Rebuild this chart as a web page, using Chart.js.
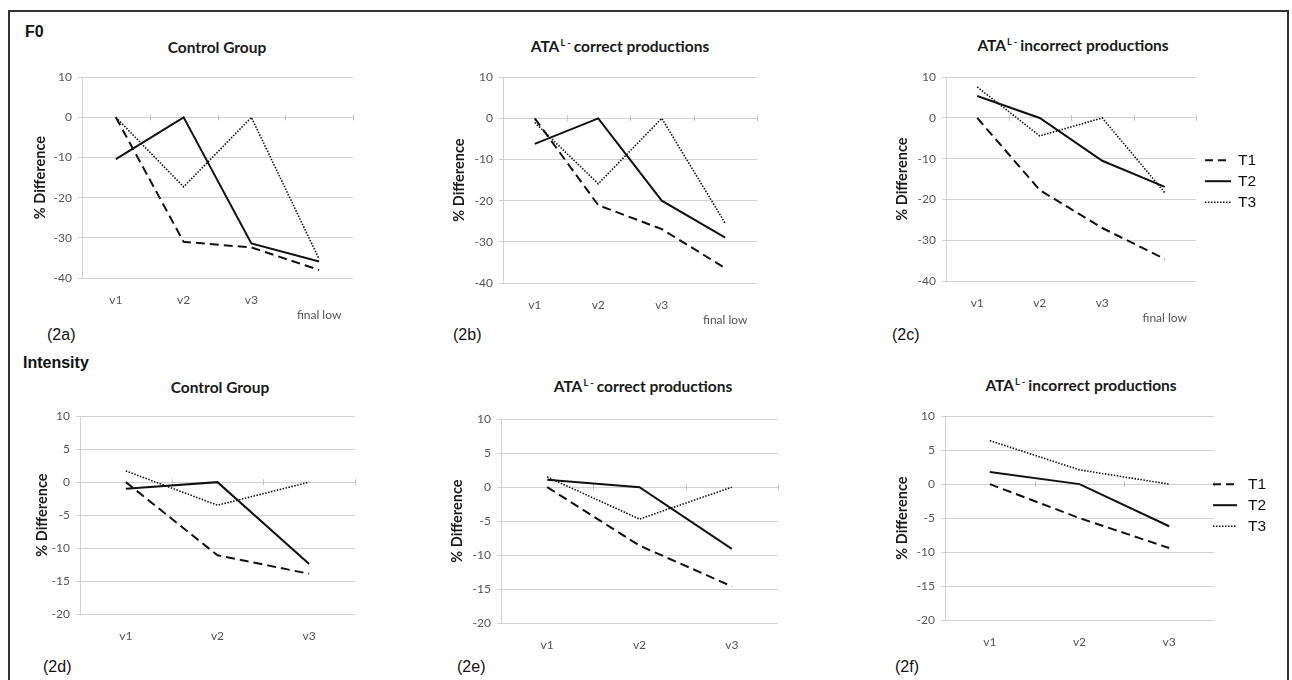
<!DOCTYPE html>
<html>
<head>
<meta charset="utf-8">
<script src="https://cdn.jsdelivr.net/npm/chart.js@4.4.1/dist/chart.umd.min.js"></script>
<style>
  html, body { margin:0; padding:0; background:#fff; }
  body { width:1292px; height:680px; overflow:hidden; position:relative; }
  #frame { position:absolute; left:8px; top:10px; width:1281px; height:700px; border:2px solid #333; box-sizing:border-box; }
  canvas { position:absolute; display:block; }
  .t { position:absolute; white-space:nowrap; line-height:1; transform:translate(0,-50%); color:#111; }
  .c { transform:translate(-50%,-50%); }
  .sec { font-family:"Liberation Sans", Arial, sans-serif; font-weight:bold; font-size:16px; }
  .lab { font-family:"Liberation Sans", Arial, sans-serif; font-size:16px; }
  .ttl { font-family:Lato, "Open Sans", sans-serif; font-weight:bold; font-size:15.5px; color:#1a1a1a; }
  .ttl sup { font-size:60%; vertical-align:0; position:relative; top:-0.6em; margin-left:1px; margin-right:3px; }
</style>
</head>
<body>
<div id="frame"></div>

<div class="t sec" style="left:25px; top:32px;">F0</div>
<div class="t sec" style="left:23px; top:363px;">Intensity</div>

<div class="t c ttl" style="left:217px; top:48px;">Control Group</div>
<div class="t c ttl" style="left:620px; top:47px;">ATA<sup>L -</sup>correct productions</div>
<div class="t c ttl" style="left:1073px; top:46px;">ATA<sup>L -</sup>incorrect productions</div>
<div class="t c ttl" style="left:220px; top:388px;">Control Group</div>
<div class="t c ttl" style="left:643px; top:387px;">ATA<sup>L -</sup>correct productions</div>
<div class="t c ttl" style="left:1081px; top:386px;">ATA<sup>L -</sup>incorrect productions</div>

<div class="t lab" style="left:47px; top:335px;">(2a)</div>
<div class="t lab" style="left:453px; top:335px;">(2b)</div>
<div class="t lab" style="left:892px; top:335px;">(2c)</div>
<div class="t lab" style="left:43px; top:667px;">(2d)</div>
<div class="t lab" style="left:457px; top:667px;">(2e)</div>
<div class="t lab" style="left:895px; top:667px;">(2f)</div>

<canvas id="c2a"></canvas>
<canvas id="c2b"></canvas>
<canvas id="c2c"></canvas>
<canvas id="c2d"></canvas>
<canvas id="c2e"></canvas>
<canvas id="c2f"></canvas>

<script>
// ---------- DATA ----------
const f0Categories = ['v1', 'v2', 'v3', 'final low'];
const intensityCategories = ['v1', 'v2', 'v3'];
const seriesNames = ['T1', 'T2', 'T3'];
const f0YTicks = [10, 0, -10, -20, -30, -40];
const intensityYTicks = [10, 5, 0, -5, -10, -15, -20];

// F0 (% difference)
const f0ControlT1 = [0, -31.0, -32.4, -38.0];
const f0ControlT2 = [-10.4, 0, -31.4, -35.9];
const f0ControlT3 = [0, -17.3, 0, -35.3];

const f0CorrectT1 = [0, -21.1, -26.9, -36.4];
const f0CorrectT2 = [-6.2, 0, -20.0, -29.0];
const f0CorrectT3 = [-1.0, -15.9, 0, -25.5];

const f0IncorrectT1 = [0, -17.7, -27.0, -34.6];
const f0IncorrectT2 = [5.4, 0, -10.5, -16.9];
const f0IncorrectT3 = [7.6, -4.4, 0, -18.3];

// Intensity (% difference)
const intControlT1 = [0, -11.1, -13.9];
const intControlT2 = [-1.0, 0, -12.4];
const intControlT3 = [1.7, -3.5, 0];

const intCorrectT1 = [0, -8.6, -14.6];
const intCorrectT2 = [1.1, 0, -9.1];
const intCorrectT3 = [1.5, -4.7, 0];

const intIncorrectT1 = [0, -5.0, -9.4];
const intIncorrectT2 = [1.8, 0, -6.2];
const intIncorrectT3 = [6.4, 2.1, 0];

// ---------- STYLE ----------
const seriesStyles = [
  { borderDash: [9, 5], borderWidth: 2, legendDash: [8, 5] },
  { borderDash: [], borderWidth: 2, legendDash: [] },
  { borderDash: [1.5, 1.5], borderWidth: 1.6, legendDash: [1.5, 1.5] }
];
const GRID = '#d2d2d2';
const TICKFONT = { family: 'Lato, "Open Sans", sans-serif', size: 12 };

const zeroTicks = {
  id: 'zeroTicks',
  beforeDatasetsDraw(chart) {
    const xs = chart.scales.x, ys = chart.scales.y, ctx = chart.ctx;
    const y0 = ys.getPixelForValue(0);
    const n = chart.data.labels.length;
    const half = (xs.getPixelForValue(1) - xs.getPixelForValue(0)) / 2;
    ctx.save();
    ctx.strokeStyle = '#c4c4c4';
    ctx.lineWidth = 1;
    for (let i = 0; i < n; i++) {
      const xx = Math.round(xs.getPixelForValue(i) + half) + 0.5;
      ctx.beginPath();
      ctx.moveTo(xx, y0 - 3);
      ctx.lineTo(xx, y0 + 3);
      ctx.stroke();
    }
    ctx.restore();
  }
};

const lineLegend = {
  id: 'lineLegend',
  afterDraw(chart, args, opts) {
    if (!opts || !opts.show) return;
    const { ctx, chartArea } = chart;
    chart.data.datasets.forEach((ds, i) => {
      const y = chartArea.top + opts.dy + i * opts.spacing;
      const x0 = chartArea.right + opts.dx;
      ctx.save();
      ctx.strokeStyle = ds.borderColor;
      ctx.lineWidth = ds.borderWidth;
      ctx.setLineDash(seriesStyles[i].legendDash);
      ctx.beginPath();
      ctx.moveTo(x0, y);
      ctx.lineTo(x0 + opts.lineLen, y);
      ctx.stroke();
      ctx.setLineDash([]);
      ctx.fillStyle = '#111';
      ctx.font = '15.5px "Liberation Sans", Arial, sans-serif';
      ctx.textBaseline = 'middle';
      ctx.fillText(ds.label, x0 + opts.lineLen + opts.gap, y + 1);
      ctx.restore();
    });
  }
};

function makePanel(id, geo, categories, series, yTicks, legend) {
  const cv = document.getElementById(id);
  const padTop = 10, xH = 50;
  const w = geo.axisW + (geo.R - geo.L) + geo.padR;
  const h = padTop + (geo.B - geo.T) + xH;
  cv.width = w; cv.height = h;
  cv.style.left = (geo.L - geo.axisW) + 'px';
  cv.style.top = (geo.T - padTop) + 'px';
  cv.style.width = w + 'px'; cv.style.height = h + 'px';
  const yMax = Math.max(...yTicks), yMin = Math.min(...yTicks);
  const step = Math.abs(yTicks[0] - yTicks[1]);
  new Chart(cv, {
    type: 'line',
    data: {
      labels: categories,
      datasets: series.map((d, i) => ({
        label: seriesNames[i],
        data: d,
        borderColor: '#111',
        backgroundColor: '#111',
        borderWidth: seriesStyles[i].borderWidth,
        borderDash: seriesStyles[i].borderDash,
        pointRadius: 0,
        tension: 0,
        fill: false
      }))
    },
    options: {
      responsive: false,
      animation: false,
      devicePixelRatio: 1,
      layout: { padding: { top: padTop, right: geo.padR, left: 0, bottom: 0 } },
      plugins: {
        legend: { display: false },
        tooltip: { enabled: false },
        lineLegend: legend || { show: false }
      },
      scales: {
        x: {
          type: 'category',
          offset: true,
          grid: { display: false, drawTicks: false },
          border: { display: false },
          ticks: {
            autoSkip: false, maxRotation: 0, minRotation: 0,
            padding: 14,
            color: '#555',
            font: Object.assign({ lineHeight: 1.3 }, TICKFONT),
            callback(v) {
              const l = this.getLabelForValue(v);
              return l.length > 3 ? ['', l] : l;
            }
          },
          afterFit(s) { s.height = xH; }
        },
        y: {
          min: yMin, max: yMax,
          ticks: { stepSize: step, color: '#555', font: TICKFONT, padding: 6 },
          grid: { color: GRID, lineWidth: 1, drawTicks: true, tickLength: 4, tickColor: GRID },
          border: { display: true, color: GRID },
          title: {
            display: true, text: '% Difference', color: '#1a1a1a', padding: 0,
            font: { family: 'Lato, "Open Sans", sans-serif', size: 14.5, weight: 'bold', lineHeight: 1.2 }
          },
          afterFit(s) { s.width = geo.axisW; }
        }
      }
    },
    plugins: [zeroTicks, lineLegend]
  });
}

makePanel('c2a', { L: 82, R: 353, T: 74, B: 278, axisW: 50, padR: 10 }, f0Categories,
  [f0ControlT1, f0ControlT2, f0ControlT3], f0YTicks);
makePanel('c2b', { L: 503, R: 757, T: 74, B: 283, axisW: 52, padR: 10 }, f0Categories,
  [f0CorrectT1, f0CorrectT2, f0CorrectT3], f0YTicks);
makePanel('c2c', { L: 946, R: 1196, T: 74, B: 281, axisW: 52, padR: 70 }, f0Categories,
  [f0IncorrectT1, f0IncorrectT2, f0IncorrectT3], f0YTicks,
  { show: true, dx: 9, dy: 83, spacing: 21, lineLen: 26, gap: 7 });
makePanel('c2d', { L: 80, R: 355, T: 413, B: 614, axisW: 46, padR: 10 }, intensityCategories,
  [intControlT1, intControlT2, intControlT3], intensityYTicks);
makePanel('c2e', { L: 501, R: 778, T: 416, B: 623, axisW: 52, padR: 10 }, intensityCategories,
  [intCorrectT1, intCorrectT2, intCorrectT3], intensityYTicks);
makePanel('c2f', { L: 945, R: 1214, T: 413, B: 620, axisW: 51, padR: 60 }, intensityCategories,
  [intIncorrectT1, intIncorrectT2, intIncorrectT3], intensityYTicks,
  { show: true, dx: -1, dy: 68, spacing: 21, lineLen: 24, gap: 11 });
</script>
</body>
</html>
